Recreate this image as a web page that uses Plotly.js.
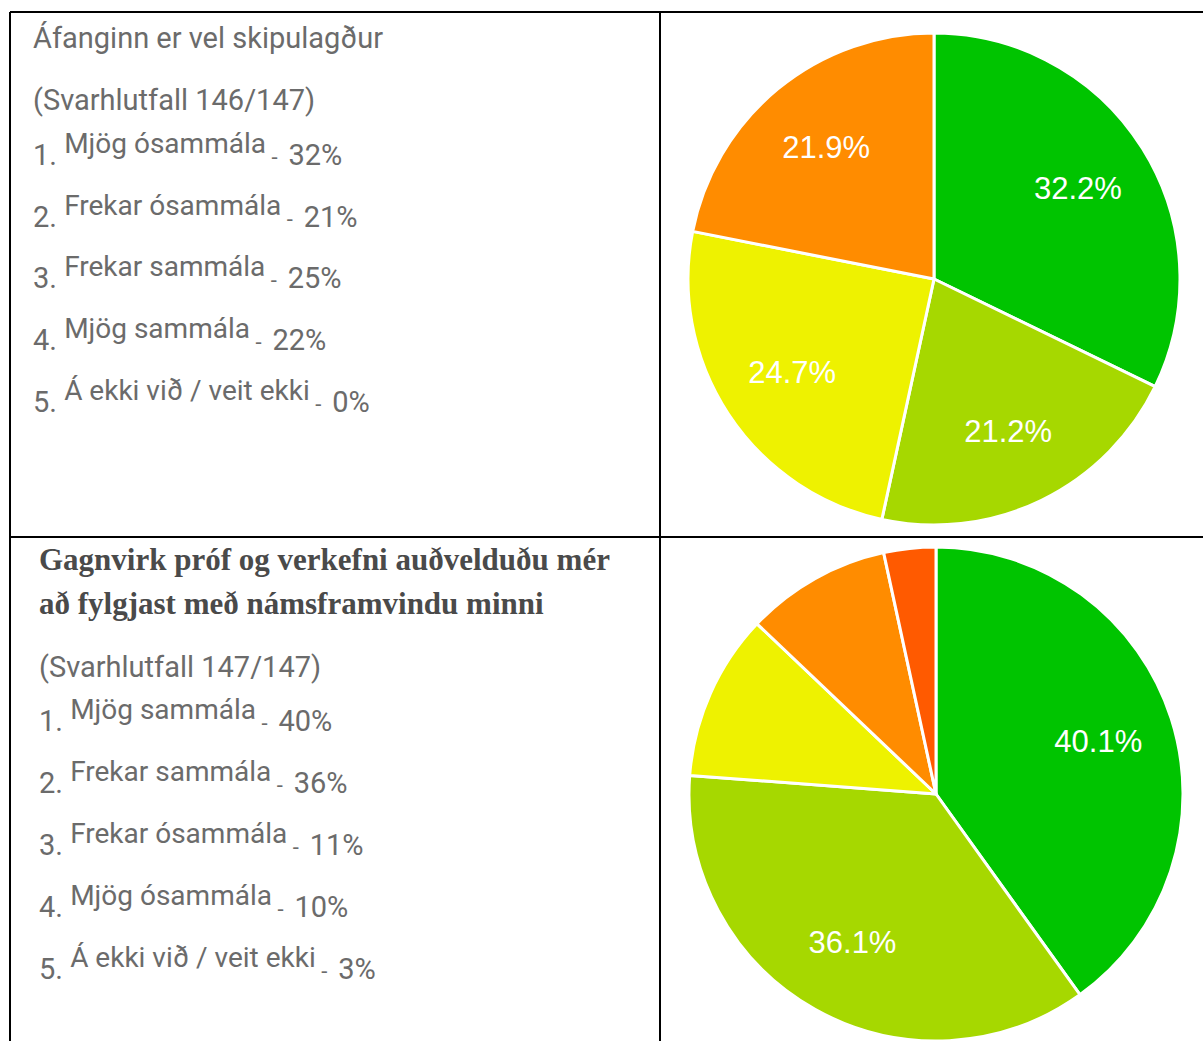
<!DOCTYPE html>
<html>
<head>
<meta charset="utf-8">
<script src="https://cdn.plot.ly/plotly-3.0.1.min.js"></script>
<style>html,body{margin:0;padding:0;background:#fff;}#chart{width:1203px;height:1041px;}</style>
</head>
<body>
<div id="chart"></div>
<script>
// ---------- data ----------
const title1 = 'Áfanginn er vel skipulagður';
const resp1 = '(Svarhlutfall 146/147)';
const cats1 = ['Mjög ósammála', 'Frekar ósammála', 'Frekar sammála', 'Mjög sammála', 'Á ekki við / veit ekki'];
const listPct1 = [32, 21, 25, 22, 0];
const slicePct1 = [32.2, 21.2, 24.7, 21.9, 0];
const colors1 = ['#00c400', '#a6d800', '#eef200', '#ff8c00', '#ff5a00'];

const title2 = ['Gagnvirk próf og verkefni auðvelduðu mér', 'að fylgjast með námsframvindu minni'];
const resp2 = '(Svarhlutfall 147/147)';
const cats2 = ['Mjög sammála', 'Frekar sammála', 'Frekar ósammála', 'Mjög ósammála', 'Á ekki við / veit ekki'];
const listPct2 = [40, 36, 11, 10, 3];
const slicePct2 = [40.1, 36.1, 10.9, 9.5, 3.4];
const colors2 = ['#00c400', '#a6d800', '#eef200', '#ff8c00', '#ff5a00'];

// ---------- helpers ----------
const W = 1203, H = 1041;
const px = x => x / W;
const py = y => 1 - y / H;

function pieTraces(cats, vals, cols, x0, x1, y0, y1) {
  const idx = vals.map((v, i) => i).filter(i => vals[i] > 0);
  const domain = { x: [px(x0), px(x1)], y: [py(y1), py(y0)] };
  const base = {
    type: 'pie',
    labels: idx.map(i => cats[i]),
    values: idx.map(i => vals[i]),
    sort: false,
    direction: 'clockwise',
    rotation: 0,
    showlegend: false,
    domain: domain
  };
  // filled slices
  const fill = Object.assign({}, base, {
    marker: { colors: idx.map(i => cols[i]), line: { color: '#ffffff', width: 3 } },
    textinfo: 'none',
    hoverinfo: 'label+percent'
  });
  // transparent ring carrying the percentage labels (places them further out like the original)
  const labels = Object.assign({}, base, {
    hole: 0.38,
    marker: { colors: idx.map(() => 'rgba(0,0,0,0)'), line: { width: 0 } },
    textposition: 'inside',
    insidetextorientation: 'horizontal',
    texttemplate: idx.map(i => vals[i] >= 15 ? '%{value:.1f}%' : ''),
    textfont: { family: 'Liberation Sans, Arial, sans-serif', size: 31, color: '#ffffff' },
    hoverinfo: 'skip'
  });
  return [fill, labels];
}

const data = [].concat(
  pieTraces(cats1, slicePct1, colors1, 688, 1180, 33, 525),
  pieTraces(cats2, slicePct2, colors2, 689, 1183, 547, 1041)
);

const grey = '#6b6b6b';
const ann = [];
function txt(text, x, y, size, opts) {
  ann.push(Object.assign({
    text: text, x: px(x), y: py(y), xref: 'paper', yref: 'paper',
    xanchor: 'left', yanchor: 'middle', showarrow: false, align: 'left',
    font: { family: 'Roboto, sans-serif', size: size, color: grey }
  }, opts || {}));
}
function list(cats, pcts, x, yStart, step) {
  cats.forEach((c, i) => {
    txt((i + 1) + '. <sup><span style="font-size:28px">' + c + '</span></sup>' +
        '<span style="font-size:22px"> -  </span>' + pcts[i] + '%', x, yStart + i * step, 29);
  });
}

const serif = { family: 'Liberation Serif, Times New Roman, serif', size: 31, color: '#4a4a4a' };

// row 1 text
txt(title1, 31, 38, 29);
txt(resp1, 31, 100, 29);
list(cats1, listPct1, 31, 149, 62);

// row 2 text
txt('<b>' + title2[0] + '</b>', 37, 559, 31, { font: serif });
txt('<b>' + title2[1] + '</b>', 37, 603, 31, { font: serif });
txt(resp2, 37, 667, 29);
list(cats2, listPct2, 37, 715, 62);

const line = { color: '#000000', width: 2 };
const shapes = [
  { type: 'line', xref: 'paper', yref: 'paper', x0: px(10), x1: px(1203), y0: py(12), y1: py(12), line: line },
  { type: 'line', xref: 'paper', yref: 'paper', x0: px(10), x1: px(1203), y0: py(537), y1: py(537), line: line },
  { type: 'line', xref: 'paper', yref: 'paper', x0: px(10), x1: px(10), y0: py(12), y1: py(1041), line: line },
  { type: 'line', xref: 'paper', yref: 'paper', x0: px(660), x1: px(660), y0: py(12), y1: py(1041), line: line }
];

const layout = {
  width: W, height: H,
  margin: { l: 0, r: 0, t: 0, b: 0 },
  paper_bgcolor: '#ffffff', plot_bgcolor: '#ffffff',
  annotations: ann, shapes: shapes
};

Plotly.newPlot('chart', data, layout, { displayModeBar: false, staticPlot: true });
</script>
</body>
</html>
